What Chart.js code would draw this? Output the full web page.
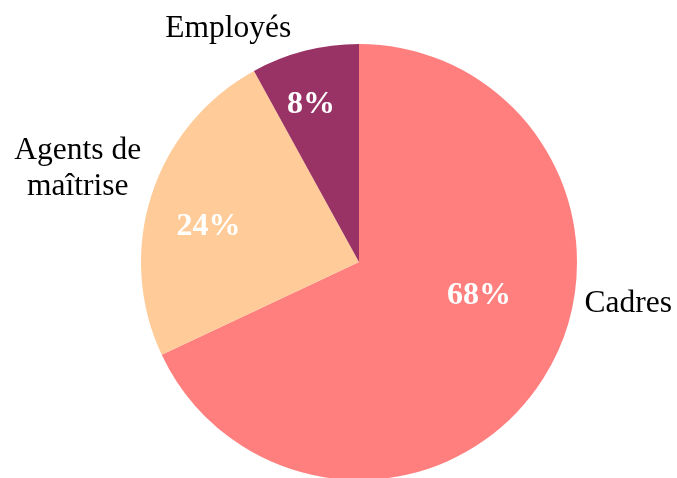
<!DOCTYPE html>
<html>
<head>
<meta charset="utf-8">
<script src="https://cdn.jsdelivr.net/npm/chart.js@4.4.1/dist/chart.umd.min.js"></script>
<style>
  html, body { margin: 0; padding: 0; background: #fff; overflow: hidden; }
  #wrap { width: 677px; height: 478px; }
</style>
</head>
<body>
<div id="wrap"><canvas id="pie"></canvas></div>
<script>
var categories = ['Cadres', 'Agents de maîtrise', 'Employés'];
var shares = [68, 24, 8];
var sliceColors = ['#FF7F7F', '#FFCC99', '#993366'];
var outerLabels = [['Cadres'], ['Agents de', 'maîtrise'], ['Employés']];

// label placement, as offsets from the pie centre in units of radius
var pctOffsets = [[0.55, 0.155], [-0.69, -0.16], [-0.22, -0.72]];
var outerOffsets = [[1.235, 0.19], [-1.29, -0.43], [-0.60, -1.07]];

var labelPlugin = {
    id: 'sliceLabels',
    afterDatasetsDraw: function (chart) {
        var ctx = chart.ctx;
        var arc = chart.getDatasetMeta(0).data[0];
        var cx = arc.x, cy = arc.y, r = arc.outerRadius;
        var total = shares.reduce(function (a, b) { return a + b; }, 0);
        ctx.save();
        ctx.textAlign = 'center';
        ctx.textBaseline = 'middle';

        ctx.fillStyle = '#ffffff';
        ctx.font = 'bold 32px "Liberation Serif", "Times New Roman", serif';
        shares.forEach(function (v, i) {
            var pct = Math.round(v / total * 100) + '%';
            ctx.fillText(pct, cx + pctOffsets[i][0] * r, cy + pctOffsets[i][1] * r);
        });

        ctx.fillStyle = '#000000';
        ctx.font = '31.5px "Liberation Serif", "Times New Roman", serif';
        outerLabels.forEach(function (lines, i) {
            var x = cx + outerOffsets[i][0] * r;
            var y = cy + outerOffsets[i][1] * r;
            var lh = 36;
            lines.forEach(function (line, k) {
                ctx.fillText(line, x, y + (k - (lines.length - 1) / 2) * lh);
            });
        });
        ctx.restore();
    }
};

var ctx = document.getElementById('pie').getContext('2d');
var pieChart = new Chart(ctx, {
    type: 'pie',
    data: {
        labels: categories,
        datasets: [{
            data: shares,
            backgroundColor: sliceColors,
            borderWidth: 0
        }]
    },
    options: {
        responsive: true,
        maintainAspectRatio: false,
        animation: false,
        radius: 218,
        layout: { padding: { left: 41, right: 0, top: 46, bottom: 0 } },
        plugins: {
            legend: { display: false },
            tooltip: { enabled: false }
        }
    },
    plugins: [labelPlugin]
});
</script>
</body>
</html>
